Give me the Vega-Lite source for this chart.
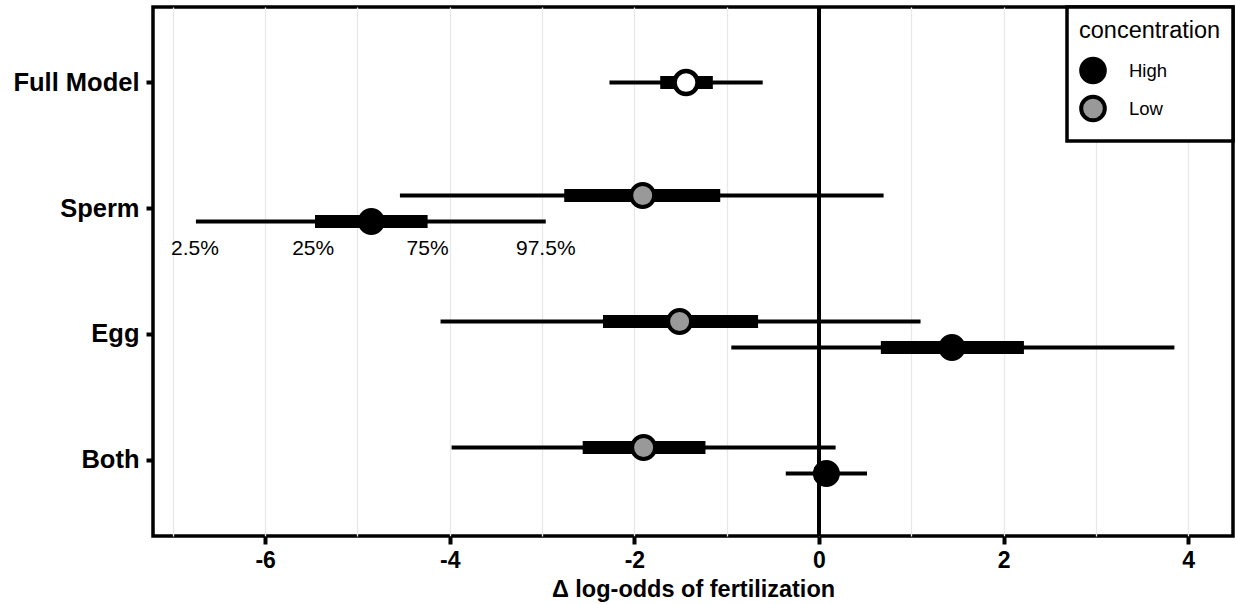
{
  "$schema": "https://vega.github.io/schema/vega-lite/v6.json",
  "width": 1080,
  "height": 529,
  "autosize": {"type": "none"},
  "padding": {"left": 153, "top": 7, "right": 3, "bottom": 68},
  "background": "white",
  "config": {
    "font": "Liberation Sans",
    "view": {"stroke": "black", "strokeWidth": 3.5},
    "legend": {"strokeWidth": 3.5}
  },
  "datasets": {
    "est": [
      {"treatment": "Full Model", "concentration": "Full", "lo95": -2.27, "lo50": -1.72, "mid": -1.44, "hi50": -1.15, "hi95": -0.61},
      {"treatment": "Sperm", "concentration": "Low", "lo95": -4.54, "lo50": -2.76, "mid": -1.91, "hi50": -1.07, "hi95": 0.70},
      {"treatment": "Sperm", "concentration": "High", "lo95": -6.75, "lo50": -5.46, "mid": -4.85, "hi50": -4.24, "hi95": -2.96},
      {"treatment": "Egg", "concentration": "Low", "lo95": -4.10, "lo50": -2.34, "mid": -1.51, "hi50": -0.66, "hi95": 1.10},
      {"treatment": "Egg", "concentration": "High", "lo95": -0.95, "lo50": 0.67, "mid": 1.44, "hi50": 2.22, "hi95": 3.85},
      {"treatment": "Both", "concentration": "Low", "lo95": -3.98, "lo50": -2.56, "mid": -1.90, "hi50": -1.23, "hi95": 0.18},
      {"treatment": "Both", "concentration": "High", "lo95": -0.36, "lo50": -0.05, "mid": 0.08, "hi50": 0.20, "hi95": 0.52}
    ],
    "labels": [
      {"treatment": "Sperm", "concentration": "High", "x": -6.76, "label": "2.5%"},
      {"treatment": "Sperm", "concentration": "High", "x": -5.48, "label": "25%"},
      {"treatment": "Sperm", "concentration": "High", "x": -4.24, "label": "75%"},
      {"treatment": "Sperm", "concentration": "High", "x": -2.96, "label": "97.5%"}
    ]
  },
  "layer": [
    {
      "data": {"name": "est"},
      "mark": {"type": "rule", "color": "black", "strokeWidth": 3.5},
      "encoding": {
        "x": {
          "datum": 0,
          "type": "quantitative",
          "scale": {"domain": [-7.215, 4.485], "nice": false, "zero": false},
          "axis": {
            "values": [-7, -6, -5, -4, -3, -2, -1, 0, 1, 2, 3, 4],
            "labelExpr": "datum.value % 2 === 0 ? '' + datum.value : ''",
            "tickOpacity": {"condition": {"test": "datum.value % 2 !== 0", "value": 0}, "value": 1},
            "grid": true,
            "gridColor": "#e8e8e8",
            "gridWidth": 1.3,
            "domain": false,
            "tickColor": "black",
            "tickWidth": 4,
            "tickSize": 8,
            "labelFont": "Liberation Sans",
            "labelFontSize": 23,
            "labelFontWeight": "bold",
            "labelColor": "black",
            "labelPadding": 5,
            "title": "Δ log-odds of fertilization",
            "titleFont": "Liberation Sans",
            "titleFontSize": 23.5,
            "titleFontWeight": "bold",
            "titleColor": "black",
            "titlePadding": 5
          }
        }
      }
    },
    {
      "data": {"name": "est"},
      "mark": {"type": "rule", "color": "black", "strokeWidth": 4},
      "encoding": {
        "x": {"field": "lo95", "type": "quantitative"},
        "x2": {"field": "hi95"},
        "y": {
          "field": "treatment",
          "type": "nominal",
          "sort": ["Full Model", "Sperm", "Egg", "Both"],
          "scale": {"paddingInner": 0, "paddingOuter": 0.1},
          "axis": {
            "title": null,
            "domain": false,
            "grid": false,
            "tickColor": "black",
            "tickWidth": 4,
            "tickSize": 7,
            "labelFont": "Liberation Sans",
            "labelFontSize": 25.5,
            "labelFontWeight": "bold",
            "labelColor": "black",
            "labelPadding": 7
          }
        },
        "yOffset": {
          "field": "concentration",
          "type": "nominal",
          "scale": {"domain": ["Low", "Full", "High"], "range": [37, 89], "paddingInner": 0, "paddingOuter": 0.5}
        }
      }
    },
    {
      "data": {"name": "est"},
      "mark": {"type": "rule", "color": "black", "strokeWidth": 13},
      "encoding": {
        "x": {"field": "lo50", "type": "quantitative"},
        "x2": {"field": "hi50"},
        "y": {"field": "treatment", "type": "nominal", "sort": ["Full Model", "Sperm", "Egg", "Both"]},
        "yOffset": {"field": "concentration", "type": "nominal"}
      }
    },
    {
      "data": {"name": "est"},
      "transform": [{"filter": "datum.concentration !== 'Full'"}],
      "mark": {"type": "point", "filled": true, "size": 530, "stroke": "black", "strokeWidth": 4, "opacity": 1, "shape": "circle"},
      "encoding": {
        "x": {"field": "mid", "type": "quantitative"},
        "y": {"field": "treatment", "type": "nominal", "sort": ["Full Model", "Sperm", "Egg", "Both"]},
        "yOffset": {"field": "concentration", "type": "nominal"},
        "fill": {
          "field": "concentration",
          "type": "nominal",
          "scale": {"domain": ["High", "Low"], "range": ["#000000", "#999999"]},
          "legend": {
            "title": "concentration",
            "orient": "top-right",
            "offset": 0,
            "strokeColor": "black",
            "fillColor": "white",
            "padding": 12,
            "cornerRadius": 0,
            "titleFont": "Liberation Sans",
            "titleFontSize": 23.5,
            "titleFontWeight": "normal",
            "titleColor": "black",
            "titlePadding": 14,
            "labelFont": "Liberation Sans",
            "labelFontSize": 18.5,
            "labelColor": "black",
            "labelOffset": 22,
            "symbolType": "circle",
            "symbolSize": 560,
            "symbolStrokeColor": "black",
            "symbolStrokeWidth": 4,
            "rowPadding": -2
          }
        }
      }
    },
    {
      "data": {"name": "est"},
      "transform": [{"filter": "datum.concentration === 'Full'"}],
      "mark": {"type": "point", "filled": true, "size": 530, "fill": "white", "stroke": "black", "strokeWidth": 4.5, "opacity": 1, "shape": "circle"},
      "encoding": {
        "x": {"field": "mid", "type": "quantitative"},
        "y": {"field": "treatment", "type": "nominal", "sort": ["Full Model", "Sperm", "Egg", "Both"]},
        "yOffset": {"field": "concentration", "type": "nominal"}
      }
    },
    {
      "data": {"name": "labels"},
      "mark": {"type": "text", "fontSize": 21, "dy": 27, "align": "center", "baseline": "middle", "color": "black", "font": "Liberation Sans"},
      "encoding": {
        "x": {"field": "x", "type": "quantitative"},
        "y": {"field": "treatment", "type": "nominal", "sort": ["Full Model", "Sperm", "Egg", "Both"]},
        "yOffset": {"field": "concentration", "type": "nominal"},
        "text": {"field": "label"}
      }
    }
  ]
}
